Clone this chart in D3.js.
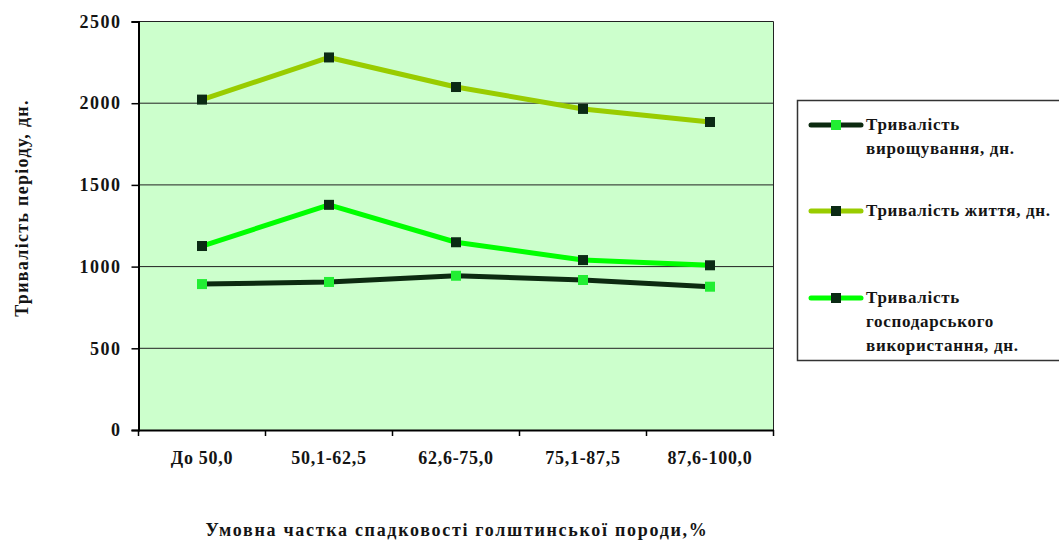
<!DOCTYPE html>
<html>
<head>
<meta charset="utf-8">
<script src="https://cdn.jsdelivr.net/npm/d3@7"></script>
<style>
  html, body { margin: 0; padding: 0; background: #ffffff; }
  svg { display: block; }
</style>
</head>
<body>
<svg id="chart" width="1059" height="541"></svg>
<script>
// Holstein heredity share groups
const categories = ["До 50,0", "50,1-62,5", "62,6-75,0", "75,1-87,5", "87,6-100,0"];

// Durations, days
const growing = [893, 906, 944, 918, 877];      // rearing period
const life = [2022, 2280, 2099, 1965, 1885];     // life span
const usage = [1126, 1378, 1149, 1040, 1008];    // productive use

const yTicks = [0, 500, 1000, 1500, 2000, 2500];

const seriesNames = [
  ["Тривалість", "вирощування, дн."],
  ["Тривалість життя, дн."],
  ["Тривалість", "господарського", "використання, дн."]
];

const FONT = "'Liberation Serif', 'Times New Roman', Tinos, serif";

const series = [
  { values: growing, line: "#0c2a10", marker: "#22ee33", label: seriesNames[0] },
  { values: life, line: "#99cc00", marker: "#0b2a14", label: seriesNames[1] },
  { values: usage, line: "#00ff00", marker: "#0b2a14", label: seriesNames[2] }
];

const svg = d3.select("#chart");
const plot = { left: 138.5, right: 773.5, top: 21.5, bottom: 430 };

const x = d3.scaleBand().domain(categories).range([plot.left, plot.right]);
const y = d3.scaleLinear().domain([0, 2500]).range([plot.bottom, plot.top]);

function styleText(sel, size) {
  sel.attr("font-family", FONT).attr("font-weight", "bold")
    .attr("font-size", size).attr("fill", "#141414");
}

// plot background
svg.append("rect")
  .attr("x", plot.left).attr("y", plot.top)
  .attr("width", plot.right - plot.left).attr("height", plot.bottom - plot.top)
  .attr("fill", "#ccffcc");

// horizontal grid lines
svg.append("g").selectAll("line").data(yTicks.filter(d => d > 0)).join("line")
  .attr("x1", plot.left).attr("x2", plot.right)
  .attr("y1", d => y(d)).attr("y2", d => y(d))
  .attr("stroke", "#222").attr("stroke-width", 1);

// right edge of plot area
svg.append("line")
  .attr("x1", plot.right).attr("x2", plot.right)
  .attr("y1", plot.top).attr("y2", plot.bottom)
  .attr("stroke", "#222").attr("stroke-width", 1);

// y axis
const yAxis = svg.append("g")
  .attr("transform", `translate(${plot.left},0)`)
  .call(d3.axisLeft(y).tickValues(yTicks).tickSize(7).tickPadding(10).tickFormat(d3.format("d")));
yAxis.attr("font-family", null).attr("font-size", null);
yAxis.select(".domain").attr("stroke", "#000").attr("stroke-width", 2);
yAxis.selectAll(".tick line").attr("stroke", "#000").attr("stroke-width", 1.5);
yAxis.selectAll(".tick text").call(styleText, 18).attr("letter-spacing", 1.5);

// x axis with ticks between categories
const xAxis = svg.append("g")
  .attr("transform", `translate(0,${plot.bottom})`)
  .call(d3.axisBottom(x).tickSize(0).tickPadding(21));
xAxis.attr("font-family", null).attr("font-size", null);
xAxis.select(".domain").attr("stroke", "#000").attr("stroke-width", 2);
xAxis.selectAll(".tick text").call(styleText, 18).attr("letter-spacing", 0.7);
const bounds = categories.map(c => x(c)).concat([x(categories[categories.length - 1]) + x.bandwidth()]);
svg.append("g").selectAll("line").data(bounds).join("line")
  .attr("x1", d => d).attr("x2", d => d)
  .attr("y1", plot.bottom).attr("y2", plot.bottom + 6)
  .attr("stroke", "#000").attr("stroke-width", 1.5);

// series lines and markers
const cx = c => x(c) + x.bandwidth() / 2;
const lineGen = d3.line().x((d, i) => cx(categories[i])).y(d => y(d));
const ms = 10;

series.forEach(s => {
  svg.append("path")
    .datum(s.values)
    .attr("d", lineGen)
    .attr("fill", "none")
    .attr("stroke", s.line)
    .attr("stroke-width", 5)
    .attr("stroke-linejoin", "round");
  svg.append("g").selectAll("rect").data(s.values).join("rect")
    .attr("x", (d, i) => cx(categories[i]) - ms / 2)
    .attr("y", d => y(d) - ms / 2)
    .attr("width", ms).attr("height", ms)
    .attr("fill", s.marker);
});

// axis titles
svg.append("text")
  .attr("transform", `translate(28,208) rotate(-90)`)
  .attr("text-anchor", "middle")
  .call(styleText, 18)
  .attr("letter-spacing", 1.3)
  .text("Тривалість періоду, дн.");

svg.append("text")
  .attr("x", 457).attr("y", 536)
  .attr("text-anchor", "middle")
  .call(styleText, 18)
  .attr("letter-spacing", 1.7)
  .text("Умовна частка спадковості голштинської породи,%");

// legend
const legend = svg.append("g");
legend.append("rect")
  .attr("x", 797.5).attr("y", 100.5)
  .attr("width", 270).attr("height", 260)
  .attr("fill", "#fff").attr("stroke", "#333").attr("stroke-width", 1.5);

const legendY = [125, 211, 298];
series.forEach((s, i) => {
  const ly = legendY[i];
  legend.append("line")
    .attr("x1", 811).attr("x2", 861).attr("y1", ly).attr("y2", ly)
    .attr("stroke", s.line).attr("stroke-width", 5).attr("stroke-linecap", "round");
  legend.append("rect")
    .attr("x", 836 - 5).attr("y", ly - 5).attr("width", 10).attr("height", 10)
    .attr("fill", s.marker);
  s.label.forEach((t, j) => {
    legend.append("text")
      .attr("x", 866).attr("y", ly + 5 + j * 24)
      .call(styleText, 17)
      .attr("letter-spacing", 0.7)
      .text(t);
  });
});
</script>
</body>
</html>
